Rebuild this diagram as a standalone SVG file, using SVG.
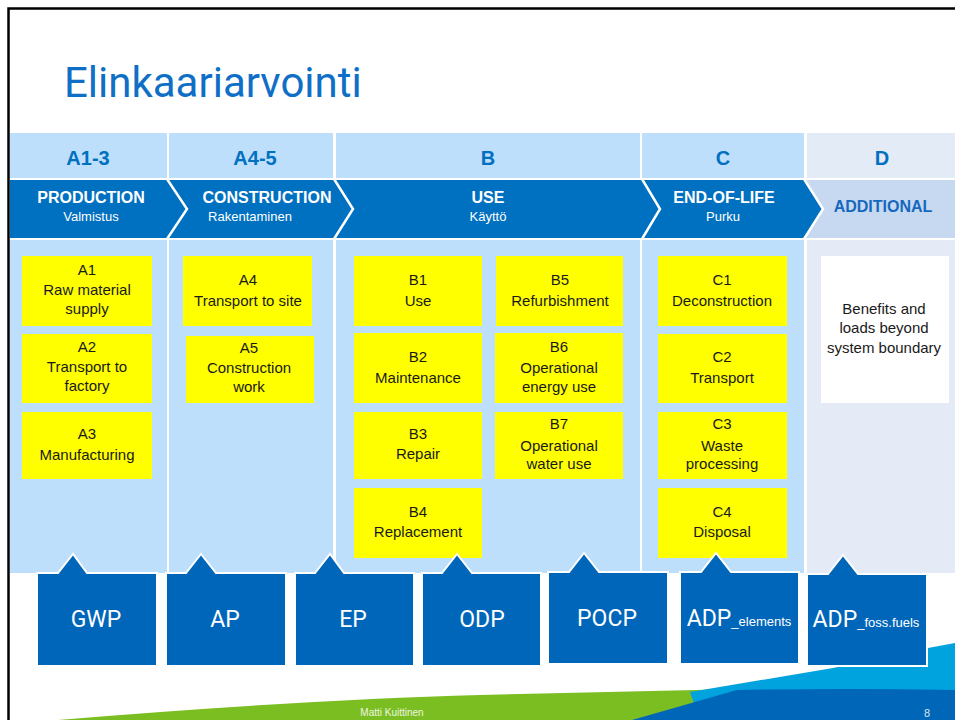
<svg xmlns="http://www.w3.org/2000/svg" width="955" height="720" viewBox="0 0 955 720">
<style>
.hdr{fill:#BEDFFB}
.hdrD{fill:#E3EBF7}
.body{fill:#BEDFFB}
.bodyD{fill:#E4EBF6}
.hl{font-family:"Liberation Sans",Arial,sans-serif;font-weight:bold;font-size:20px;fill:#0070C0;text-anchor:middle}
.ct{font-family:"Liberation Sans",Arial,sans-serif;font-weight:bold;font-size:16px;fill:#FFFFFF;text-anchor:middle}
.cs{font-family:"Liberation Sans",Arial,sans-serif;font-size:13px;fill:#FFFFFF;text-anchor:middle}
.yb{fill:#FFFF00}
.yt{font-family:"Liberation Sans",Arial,sans-serif;font-size:15px;fill:#1A1A1A;text-anchor:middle}
.co{fill:#0066BA;stroke:#FFFFFF;stroke-width:2}
.cot{font-family:Roboto,"Liberation Sans",sans-serif;font-size:23px;fill:#FFFFFF;text-anchor:middle}
.sep{fill:none;stroke:#FFFFFF;stroke-width:2.5}
</style>

<rect x="0" y="0" width="955" height="720" fill="#FFFFFF"/>

<!-- footer waves -->
<g id="footer">
<path d="M58,720 Q300,700 480,695 L740,689 L955,689 L955,720 Z" fill="#7BBE21"/>
<path d="M690,692 L833,668 L928,648 L955,643 L955,720 L700,720 Z" fill="#00A3DD"/>
<path d="M632,720 L737,690 Q850,688 955,690 L955,720 Z" fill="#0066B8"/>
<text x="392" y="716" font-family="'Liberation Sans',Arial,sans-serif" font-size="10" fill="#EEF5E0" text-anchor="middle">Matti Kuittinen</text>
<text x="927" y="717" font-family="'Liberation Sans',Arial,sans-serif" font-size="11" fill="#D8E4F2" text-anchor="middle">8</text>
</g>

<!-- frame -->
<path d="M8.5,720 V8.5 H955" fill="none" stroke="#000000" stroke-width="2.5"/>

<text id="title" x="64" y="97" font-family="Roboto,'Open Sans',sans-serif" font-size="42" fill="#0F6FC6">Elinkaariarvointi</text>

<!-- header row -->
<g id="headers">
<rect class="hdr" x="10" y="133" width="157" height="45"/>
<rect class="hdr" x="169" y="133" width="164" height="45"/>
<rect class="hdr" x="336" y="133" width="304" height="45"/>
<rect class="hdr" x="642" y="133" width="162" height="45"/>
<rect class="hdrD" x="807" y="133" width="148" height="45"/>
<text class="hl" x="88" y="165">A1-3</text>
<text class="hl" x="255" y="165">A4-5</text>
<text class="hl" x="488" y="165">B</text>
<text class="hl" x="723" y="165">C</text>
<text class="hl" x="882" y="165">D</text>
</g>

<!-- chevron row -->
<g id="chevrons">
<rect x="805" y="180" width="150" height="58" fill="#C6D9F1"/>
<polygon points="10,180 804,180 823,209 804,238 10,238" fill="#0070C0"/>
<polyline class="sep" points="167,179 187,209 167,239"/>
<polyline class="sep" points="334,179 353,209 334,239"/>
<polyline class="sep" points="642,179 660,209 642,239"/>
<polyline class="sep" points="804,179 823,209 804,239"/>
<text class="ct" x="91" y="203">PRODUCTION</text>
<text class="cs" x="91" y="221">Valmistus</text>
<text class="ct" x="267" y="203">CONSTRUCTION</text>
<text class="cs" x="250" y="221">Rakentaminen</text>
<text class="ct" x="488" y="203">USE</text>
<text class="cs" x="488" y="221">Käyttö</text>
<text class="ct" x="724" y="203">END-OF-LIFE</text>
<text class="cs" x="723" y="221">Purku</text>
<text class="ct" x="883" y="212" style="fill:#1468BE">ADDITIONAL</text>
</g>

<!-- body columns -->
<g id="columns">
<rect class="body" x="10" y="240" width="157" height="333"/>
<rect class="body" x="169" y="240" width="164" height="333"/>
<rect class="body" x="336" y="240" width="304" height="333"/>
<rect class="body" x="642" y="240" width="162" height="333"/>
<rect class="bodyD" x="807" y="240" width="148" height="333"/>
</g>

<g id="A1"><rect class="yb" x="22" y="256" width="130" height="70"/>
<text class="yt" x="87" y="275">A1</text><text class="yt" x="87" y="295">Raw material</text><text class="yt" x="87" y="314">supply</text></g>
<g id="A2"><rect class="yb" x="22" y="334" width="130" height="69"/>
<text class="yt" x="87" y="352">A2</text><text class="yt" x="87" y="372">Transport to</text><text class="yt" x="87" y="391">factory</text></g>
<g id="A3"><rect class="yb" x="22" y="412" width="130" height="67"/>
<text class="yt" x="87" y="439">A3</text><text class="yt" x="87" y="460">Manufacturing</text></g>
<g id="A4"><rect class="yb" x="183" y="256" width="129" height="70"/>
<text class="yt" x="248" y="285">A4</text><text class="yt" x="248" y="306">Transport to site</text></g>
<g id="A5"><rect class="yb" x="186" y="336" width="128" height="67"/>
<text class="yt" x="249" y="353">A5</text><text class="yt" x="249" y="373">Construction</text><text class="yt" x="249" y="392">work</text></g>

<g id="B1"><rect class="yb" x="354" y="256" width="128" height="70"/>
<text class="yt" x="418" y="285">B1</text><text class="yt" x="418" y="306">Use</text></g>
<g id="B2"><rect class="yb" x="354" y="333" width="128" height="70"/>
<text class="yt" x="418" y="362">B2</text><text class="yt" x="418" y="383">Maintenance</text></g>
<g id="B3"><rect class="yb" x="354" y="412" width="128" height="67"/>
<text class="yt" x="418" y="439">B3</text><text class="yt" x="418" y="459">Repair</text></g>
<g id="B4"><rect class="yb" x="354" y="488" width="128" height="70"/>
<text class="yt" x="418" y="517">B4</text><text class="yt" x="418" y="537">Replacement</text></g>
<g id="B5"><rect class="yb" x="496" y="256" width="127" height="70"/>
<text class="yt" x="560" y="285">B5</text><text class="yt" x="560" y="306">Refurbishment</text></g>
<g id="B6"><rect class="yb" x="495" y="333" width="128" height="70"/>
<text class="yt" x="559" y="352">B6</text><text class="yt" x="559" y="373">Operational</text><text class="yt" x="559" y="392">energy use</text></g>
<g id="B7"><rect class="yb" x="495" y="412" width="128" height="67"/>
<text class="yt" x="559" y="429">B7</text><text class="yt" x="559" y="451">Operational</text><text class="yt" x="559" y="469">water use</text></g>

<g id="C1"><rect class="yb" x="658" y="256" width="129" height="70"/>
<text class="yt" x="722" y="285">C1</text><text class="yt" x="722" y="306">Deconstruction</text></g>
<g id="C2"><rect class="yb" x="658" y="334" width="129" height="69"/>
<text class="yt" x="722" y="362">C2</text><text class="yt" x="722" y="383">Transport</text></g>
<g id="C3"><rect class="yb" x="658" y="412" width="129" height="67"/>
<text class="yt" x="722" y="429">C3</text><text class="yt" x="722" y="451">Waste</text><text class="yt" x="722" y="469">processing</text></g>
<g id="C4"><rect class="yb" x="658" y="488" width="129" height="70"/>
<text class="yt" x="722" y="517">C4</text><text class="yt" x="722" y="537">Disposal</text></g>

<g id="D"><rect x="821" y="256" width="128" height="147" fill="#FFFFFF"/>
<text class="yt" x="884" y="314">Benefits and</text><text class="yt" x="884" y="333">loads beyond</text><text class="yt" x="884" y="353">system boundary</text></g>

<!-- impact category callouts -->
<g id="GWP"><path class="co" d="M37,573 H58 L73,554 L87,573 H157 V666 H37 Z"/><text class="cot" x="96" y="627">GWP</text></g>
<g id="AP"><path class="co" d="M166,573 H186 L201,554 L216,573 H286 V666 H166 Z"/><text class="cot" x="225" y="627">AP</text></g>
<g id="EP"><path class="co" d="M295,573 H315 L330,554 L344,573 H414 V666 H295 Z"/><text class="cot" x="353" y="627">EP</text></g>
<g id="ODP"><path class="co" d="M422,573 H442 L457,554 L472,573 H541 V666 H422 Z"/><text class="cot" x="482" y="627">ODP</text></g>
<g id="POCP"><path class="co" d="M548,572 H569 L584,553 L599,572 H668 V664 H548 Z"/><text class="cot" x="607" y="626">POCP</text></g>
<g id="ADPe"><path class="co" d="M680,572 H701 L716,553 L731,572 H799 V664 H680 Z"/><text class="cot" x="739" y="626">ADP<tspan font-family="'Liberation Sans',Arial,sans-serif" font-size="13">_elements</tspan></text></g>
<g id="ADPf"><path class="co" d="M807,574 H828 L843,555 L858,574 H927 V666 H807 Z"/><text class="cot" x="866" y="627">ADP<tspan font-family="'Liberation Sans',Arial,sans-serif" font-size="13">_foss.fuels</tspan></text></g>
</svg>
